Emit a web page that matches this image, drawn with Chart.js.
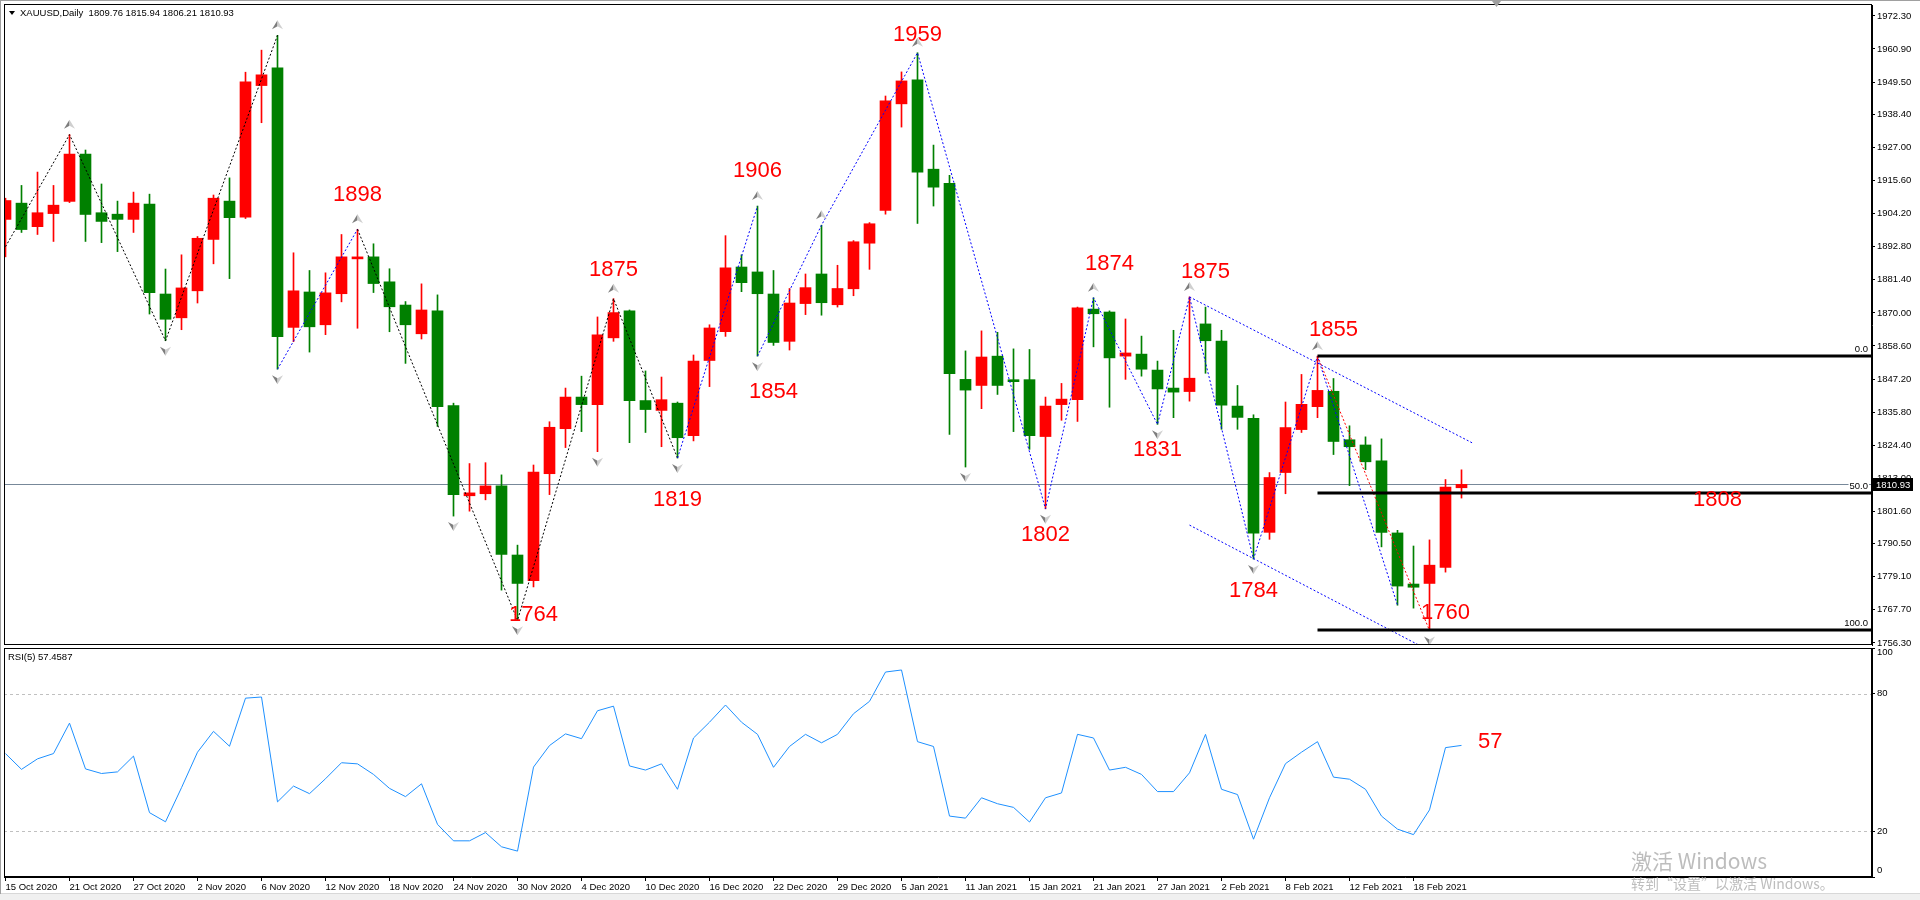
<!DOCTYPE html>
<html>
<head>
<meta charset="utf-8">
<title>XAUUSD Daily</title>
<script src="https://cdn.jsdelivr.net/npm/chart.js@4.4.1/dist/chart.umd.min.js"></script>
<style>
    body { margin: 0; width: 1920px; height: 900px; overflow: hidden; position: relative; background: #fff; }
    #priceChart { position: absolute; left: 0; top: 0; }
    #rsiChart { position: absolute; left: 0; top: 640px; }
    #frame { position: absolute; left: 0; top: 0; width: 1919px; height: 893px; border-left: 1px solid #a0a0a0; border-top: 1px solid #a0a0a0; pointer-events: none; }
    #bottomStrip { position: absolute; left: 0; top: 893px; width: 1920px; height: 7px; background: #f0f0f0; border-top: 1px solid #d8d8d8; }
    .wm { position: absolute; color: #bdbdbd; font-family: 'Noto Sans CJK SC', 'Noto Sans', sans-serif; white-space: nowrap; pointer-events: none; }
</style>
</head>
<body>
<canvas id="priceChart" width="1920" height="646"></canvas>
<canvas id="rsiChart" width="1920" height="253"></canvas>
<div id="bottomStrip"></div>
<div id="frame"></div>
<div class="wm" style="left:1631px; top:845px; font-size:21px;">激活 Windows</div>
<div class="wm" style="left:1631px; top:873px; font-size:14px;">转到“设置”以激活 Windows。</div>
<script>
// XAUUSD daily candles, 15 Oct 2020 .. 23 Feb 2021
const opens = [1902.2, 1907.8, 1899.7, 1904.2, 1908.4, 1924.7, 1904.5, 1904.0, 1902.2, 1907.5,
    1876.5, 1868.3, 1877.6, 1895.3, 1908.5, 1903.0, 1948.3, 1954.4, 1865.0, 1877.2,
    1865.9, 1876.6, 1888.6, 1889.3, 1880.7, 1872.7, 1862.8, 1870.7, 1838.1, 1807.0,
    1807.7, 1810.4, 1786.6, 1777.8, 1814.6, 1830.1, 1841.0, 1838.4, 1861.4, 1870.7,
    1839.8, 1836.4, 1838.9, 1827.7, 1853.6, 1863.5, 1885.8, 1884.1, 1876.5, 1860.2,
    1873.2, 1883.4, 1872.8, 1878.3, 1894.0, 1905.3, 1942.0, 1950.3, 1919.5, 1914.6,
    1847.1, 1845.0, 1855.1, 1846.5, 1847.0, 1827.4, 1838.4, 1840.1, 1871.3, 1870.3,
    1855.1, 1855.8, 1850.3, 1844.1, 1842.9, 1866.2, 1860.3, 1837.9, 1833.7, 1794.4,
    1815.0, 1829.8, 1837.7, 1843.0, 1826.3, 1824.5, 1819.0, 1794.2, 1776.6, 1776.8,
    1782.3, 1809.76];
const highs = [1909.5, 1913.9, 1918.5, 1913.9, 1931.4, 1926.1, 1914.4, 1908.5, 1911.6, 1910.9,
    1885.1, 1890.0, 1896.3, 1910.6, 1916.5, 1952.9, 1960.5, 1965.6, 1890.7, 1884.6,
    1883.8, 1897.0, 1898.8, 1893.8, 1885.2, 1873.9, 1880.0, 1876.2, 1838.9, 1818.1,
    1818.4, 1814.2, 1790.0, 1817.6, 1832.5, 1844.1, 1848.2, 1868.6, 1874.9, 1871.0,
    1850.0, 1847.9, 1839.3, 1855.5, 1865.9, 1896.6, 1890.0, 1906.8, 1884.6, 1878.4,
    1883.4, 1900.2, 1886.4, 1894.9, 1901.1, 1944.7, 1953.0, 1959.6, 1927.8, 1917.4,
    1856.9, 1863.8, 1863.3, 1857.6, 1857.4, 1841.0, 1845.7, 1872.0, 1875.2, 1870.7,
    1867.9, 1862.0, 1853.4, 1864.0, 1875.5, 1872.0, 1864.0, 1845.0, 1834.9, 1815.0,
    1839.3, 1848.8, 1855.1, 1847.4, 1831.1, 1827.3, 1826.6, 1795.1, 1789.7, 1791.8,
    1812.6, 1815.94];
const lows = [1889.3, 1897.7, 1897.0, 1894.6, 1908.0, 1894.6, 1894.2, 1891.1, 1897.7, 1869.6,
    1860.4, 1864.2, 1873.4, 1886.9, 1881.8, 1902.5, 1935.5, 1850.6, 1860.1, 1856.5,
    1862.5, 1873.8, 1864.7, 1877.0, 1863.5, 1852.6, 1861.0, 1830.9, 1800.0, 1801.7,
    1805.6, 1774.5, 1764.1, 1775.6, 1807.4, 1823.6, 1829.1, 1822.2, 1860.2, 1825.3,
    1828.8, 1823.9, 1820.0, 1825.9, 1844.6, 1861.9, 1877.3, 1855.1, 1858.8, 1857.2,
    1869.4, 1869.2, 1872.0, 1875.9, 1885.0, 1904.0, 1934.0, 1900.8, 1906.8, 1828.1,
    1816.9, 1837.0, 1841.9, 1829.1, 1823.0, 1802.5, 1833.0, 1832.6, 1858.3, 1837.5,
    1847.1, 1848.2, 1831.6, 1833.9, 1839.6, 1849.2, 1829.9, 1829.9, 1785.2, 1792.0,
    1807.7, 1828.8, 1833.9, 1821.2, 1810.5, 1816.0, 1789.4, 1769.3, 1768.3, 1760.6,
    1780.7, 1806.21];
const closes = [1908.7, 1898.7, 1904.5, 1907.1, 1924.7, 1903.9, 1901.5, 1902.2, 1907.8, 1877.0,
    1867.8, 1878.6, 1895.7, 1909.5, 1902.8, 1949.6, 1952.0, 1861.8, 1877.6, 1865.2,
    1876.9, 1889.3, 1889.0, 1880.1, 1872.1, 1865.9, 1871.0, 1837.7, 1807.4, 1808.0,
    1810.4, 1786.8, 1776.8, 1815.2, 1830.6, 1841.0, 1838.4, 1862.4, 1870.1, 1839.8,
    1836.7, 1840.1, 1827.0, 1853.4, 1864.8, 1885.5, 1880.4, 1876.6, 1859.8, 1873.4,
    1878.7, 1873.5, 1878.4, 1894.5, 1900.7, 1943.0, 1949.9, 1918.5, 1913.3, 1849.1,
    1843.4, 1854.8, 1845.0, 1846.3, 1827.7, 1837.9, 1840.3, 1871.7, 1869.7, 1854.5,
    1856.2, 1850.6, 1843.8, 1842.7, 1847.5, 1860.4, 1838.2, 1834.0, 1794.1, 1813.3,
    1830.5, 1838.5, 1843.3, 1825.7, 1823.9, 1818.7, 1794.4, 1775.9, 1775.5, 1783.1,
    1810.0, 1810.93];

// RSI(5)
const rsiValues = [53.9, 47.0, 51.6, 53.9, 67.2, 47.2, 45.2, 45.9, 52.8, 28.1,
    24.1, 39.0, 54.5, 63.6, 57.1, 78.1, 78.6, 32.8, 39.7, 36.4,
    42.9, 49.9, 49.4, 44.8, 38.7, 35.1, 40.7, 23.0, 15.8, 15.8,
    19.4, 13.2, 11.3, 48.0, 57.4, 62.5, 60.4, 72.6, 74.6, 48.5,
    46.7, 49.4, 38.3, 60.7, 67.6, 75.1, 67.6, 62.3, 47.9, 57.0,
    62.3, 58.6, 62.3, 71.3, 76.7, 89.5, 90.4, 59.1, 57.0, 26.6,
    25.7, 34.6, 32.0, 30.4, 24.0, 34.6, 36.7, 62.3, 60.7, 46.7,
    47.9, 44.8, 37.3, 37.3, 45.5, 62.3, 38.3, 36.0, 16.5, 34.6,
    49.5, 54.5, 59.1, 43.6, 42.7, 38.3, 26.6, 20.9, 18.5, 29.3,
    56.5, 57.46];

// one date label every 4th bar
const dateLabels = ['15 Oct 2020', '21 Oct 2020', '27 Oct 2020', '2 Nov 2020', '6 Nov 2020',
    '12 Nov 2020', '18 Nov 2020', '24 Nov 2020', '30 Nov 2020', '4 Dec 2020', '10 Dec 2020',
    '16 Dec 2020', '22 Dec 2020', '29 Dec 2020', '5 Jan 2021', '11 Jan 2021', '15 Jan 2021',
    '21 Jan 2021', '27 Jan 2021', '2 Feb 2021', '8 Feb 2021', '12 Feb 2021', '18 Feb 2021'];

const priceTicks = [1972.30, 1960.90, 1949.50, 1938.40, 1927.00, 1915.60, 1904.20, 1892.80,
    1881.40, 1870.00, 1858.60, 1847.20, 1835.80, 1824.40, 1813.00, 1801.60, 1790.50,
    1779.10, 1767.70, 1756.30];
const rsiTicks = [0, 20, 80, 100];

const lastPrice = 1810.93;

// zigzag swings (bar index + 'h' / 'l')
const swingHighs = [4, 17, 22, 38, 47, 51, 57, 68, 74, 82];
const swingLows = [10, 17, 28, 32, 37, 42, 47, 60, 65, 72, 78, 89];
const zigzagBlack1 = [[0, 1892.8], [4, 'h'], [10, 'l'], [17, 'h']];
const zigzagBlue1 = [[17, 'l'], [22, 'h']];
const zigzagBlack2 = [[22, 'h'], [32, 'l'], [38, 'h'], [42, 'l']];
const zigzagBlue2 = [[42, 'l'], [47, 'h']];
const zigzagBlue3 = [[47, 'l'], [51, 'h'], [57, 'h'], [65, 'l'], [68, 'h'], [72, 'l'], [74, 'h'],
    [78, 'l'], [82, 'h'], [87, 'l']];

// channel and fibonacci anchors
const channelUpper = [[74, 1875.5], [91.75, 1825.0]];
const channelLower = [[74, 1796.9], [92, 1745.0]];
const fibStart = 82, fibEnd = 89;
const fibLevels = [0, 50, 100];

// red price notes
const priceNotes = [
    { x: 22, y: 1910.6, text: '1898' },
    { x: 38, y: 1884.9, text: '1875' },
    { x: 47, y: 1918.9, text: '1906' },
    { x: 48, y: 1842.8, text: '1854' },
    { x: 42, y: 1805.5, text: '1819' },
    { x: 33, y: 1765.9, text: '1764' },
    { x: 57, y: 1965.9, text: '1959' },
    { x: 65, y: 1793.5, text: '1802' },
    { x: 69, y: 1886.8, text: '1874' },
    { x: 75, y: 1884.0, text: '1875' },
    { x: 72, y: 1822.9, text: '1831' },
    { x: 83, y: 1864.1, text: '1855' },
    { x: 78, y: 1774.2, text: '1784' },
    { x: 90, y: 1766.7, text: '1760' },
    { x: 107, y: 1805.5, text: '1808' }
];
const rsiNote = { x: 92.8, y: 59.1, text: '57' };

// x range: bar i sits at 5.5 + 16*i px, plot spans 4..1872
const xMin = -0.09375;
const xMax = xMin + 1868 / 16;

const tickFont = { family: "'Liberation Sans', Arial, sans-serif", size: 9.5 };
const noteFont = "22px 'Liberation Sans', Arial, sans-serif";
const smallFont = "9.5px 'Liberation Sans', Arial, sans-serif";

function vertexPrice(v) {
    if (v[1] === 'h') return highs[v[0]];
    if (v[1] === 'l') return lows[v[0]];
    return v[1];
}

function dottedPath(ctx, x, y, pts, color) {
    ctx.strokeStyle = color;
    ctx.lineWidth = 1;
    ctx.setLineDash([2, 2]);
    ctx.beginPath();
    pts.forEach((v, k) => {
        const px = x.getPixelForValue(v[0]);
        const py = y.getPixelForValue(vertexPrice(v));
        if (k === 0) ctx.moveTo(px, py); else ctx.lineTo(px, py);
    });
    ctx.stroke();
    ctx.setLineDash([]);
}

function drawArrow(ctx, cx, tipY, dir) {
    // dir = 1: pointing up (above a high), dir = -1: pointing down (below a low)
    const baseY = tipY + 9 * dir;
    const notchY = tipY + 6 * dir;
    ctx.fillStyle = '#7d7d7d';
    ctx.beginPath();
    ctx.moveTo(cx, tipY); ctx.lineTo(cx - 5.5, baseY); ctx.lineTo(cx, notchY); ctx.closePath();
    ctx.fill();
    ctx.fillStyle = '#cfcfcf';
    ctx.beginPath();
    ctx.moveTo(cx, tipY); ctx.lineTo(cx + 5.5, baseY); ctx.lineTo(cx, notchY); ctx.closePath();
    ctx.fill();
}

const priceOverlay = {
    id: 'priceOverlay',
    beforeDatasetsDraw(chart) {
        const { ctx, chartArea: a, scales: { y } } = chart;
        ctx.save();
        const py = Math.round(y.getPixelForValue(lastPrice)) + 0.5;
        ctx.strokeStyle = '#778899';
        ctx.lineWidth = 1;
        ctx.beginPath(); ctx.moveTo(a.left, py); ctx.lineTo(a.right, py); ctx.stroke();
        ctx.restore();
    },
    afterDatasetsDraw(chart) {
        const { ctx, chartArea: a, scales: { x, y } } = chart;
        ctx.save();
        ctx.beginPath(); ctx.rect(a.left, a.top, a.right - a.left, a.bottom - a.top); ctx.clip();

        // zigzag
        dottedPath(ctx, x, y, zigzagBlack1, '#000000');
        dottedPath(ctx, x, y, zigzagBlue1, '#0000ff');
        dottedPath(ctx, x, y, zigzagBlack2, '#000000');
        dottedPath(ctx, x, y, zigzagBlue2, '#0000ff');
        dottedPath(ctx, x, y, zigzagBlue3, '#0000ff');
        // channel
        dottedPath(ctx, x, y, channelUpper, '#0000ff');
        dottedPath(ctx, x, y, channelLower, '#0000ff');

        // fibonacci
        const fHigh = highs[fibStart], fLow = lows[fibEnd];
        dottedPath(ctx, x, y, [[fibStart, fHigh], [fibEnd, fLow]], '#ff0000');
        ctx.strokeStyle = '#000';
        ctx.lineWidth = 3;
        const fx = x.getPixelForValue(fibStart);
        fibLevels.forEach(lv => {
            const py = Math.round(y.getPixelForValue(fHigh - (fHigh - fLow) * lv / 100));
            ctx.beginPath(); ctx.moveTo(fx, py); ctx.lineTo(a.right, py); ctx.stroke();
            const label = lv.toFixed(1);
            ctx.font = smallFont;
            const w = ctx.measureText(label).width;
            ctx.fillStyle = '#fff';
            ctx.fillRect(a.right - 4 - w - 1, py - 13, w + 2, 10);
            ctx.fillStyle = '#000';
            ctx.textAlign = 'right'; ctx.textBaseline = 'alphabetic';
            ctx.fillText(label, a.right - 4, py - 4);
        });

        // swing arrows
        swingHighs.forEach(i => drawArrow(ctx, x.getPixelForValue(i), y.getPixelForValue(highs[i]) - 15, 1));
        swingLows.forEach(i => drawArrow(ctx, x.getPixelForValue(i), y.getPixelForValue(lows[i]) + 15, -1));

        // red notes
        ctx.font = noteFont;
        ctx.fillStyle = '#ff0000';
        ctx.textAlign = 'center'; ctx.textBaseline = 'middle';
        priceNotes.forEach(n => ctx.fillText(n.text, x.getPixelForValue(n.x), y.getPixelForValue(n.y)));
        ctx.restore();

        // pane border
        ctx.save();
        ctx.strokeStyle = '#000'; ctx.lineWidth = 1;
        ctx.strokeRect(a.left + 0.5, a.top - 0.5, a.right - a.left - 1, a.bottom - a.top);
        // header
        ctx.fillStyle = '#000';
        ctx.beginPath(); ctx.moveTo(9, 11); ctx.lineTo(15, 11); ctx.lineTo(12, 15); ctx.closePath(); ctx.fill();
        ctx.font = smallFont; ctx.textAlign = 'left'; ctx.textBaseline = 'middle';
        ctx.fillText('XAUUSD,Daily  1809.76 1815.94 1806.21 1810.93', 20, 13);
        // chart shift marker
        ctx.fillStyle = '#a0a0a0';
        ctx.beginPath(); ctx.moveTo(1492, 1); ctx.lineTo(1501, 1); ctx.lineTo(1496.5, 7); ctx.closePath(); ctx.fill();
        // current price box
        const py = Math.round(y.getPixelForValue(lastPrice));
        ctx.fillStyle = '#000';
        ctx.fillRect(a.right + 1, py - 6, 40, 13);
        ctx.fillStyle = '#fff';
        ctx.fillText(lastPrice.toFixed(2), a.right + 4, py + 1);
        ctx.restore();
    }
};

const rsiOverlay = {
    id: 'rsiOverlay',
    beforeDatasetsDraw(chart) {
        const { ctx, chartArea: a, scales: { y } } = chart;
        ctx.save();
        ctx.strokeStyle = '#c0c0c0'; ctx.lineWidth = 1; ctx.setLineDash([3, 3]);
        [20, 80].forEach(v => {
            const py = Math.round(y.getPixelForValue(v)) + 0.5;
            ctx.beginPath(); ctx.moveTo(a.left, py); ctx.lineTo(a.right, py); ctx.stroke();
        });
        ctx.restore();
    },
    afterDatasetsDraw(chart) {
        const { ctx, chartArea: a, scales: { x, y } } = chart;
        ctx.save();
        ctx.strokeStyle = '#000'; ctx.lineWidth = 1;
        ctx.strokeRect(a.left + 0.5, a.top + 0.5, a.right - a.left - 1, a.bottom - a.top - 1);
        ctx.fillStyle = '#000'; ctx.font = smallFont;
        ctx.textAlign = 'left'; ctx.textBaseline = 'middle';
        ctx.fillText('RSI(5) 57.4587', 8, a.top + 9);
        // end labels of the RSI scale sit inside the pane, as in the terminal
        ctx.fillText('100', a.right + 5, a.top + 4);
        ctx.fillText('0', a.right + 5, a.bottom - 7);
        ctx.font = noteFont; ctx.fillStyle = '#ff0000'; ctx.textAlign = 'center';
        ctx.fillText(rsiNote.text, x.getPixelForValue(rsiNote.x), y.getPixelForValue(rsiNote.y));
        ctx.restore();
    }
};

const barColors = opens.map((o, i) => closes[i] >= o ? '#ff0000' : '#008000');

new Chart(document.getElementById('priceChart'), {
    type: 'bar',
    data: {
        datasets: [
            {
                data: opens.map((o, i) => ({ x: i, y: [o, closes[i]] })),
                backgroundColor: barColors,
                barThickness: 11,
                minBarLength: 2,
                grouped: false,
                borderWidth: 0
            },
            {
                data: opens.map((o, i) => ({ x: i, y: [lows[i], highs[i]] })),
                backgroundColor: barColors,
                barThickness: 1,
                grouped: false,
                borderWidth: 0
            }
        ]
    },
    options: {
        responsive: false,
        animation: false,
        layout: { padding: { left: 4, top: 5, right: 0, bottom: 1 } },
        plugins: { legend: { display: false }, tooltip: { enabled: false } },
        scales: {
            x: { type: 'linear', display: false, min: xMin, max: xMax, offset: false },
            y: {
                position: 'right',
                min: 1755.6,
                max: 1976.05,
                afterBuildTicks: s => { s.ticks = priceTicks.map(v => ({ value: v })); },
                afterFit: s => { s.width = 48; s.paddingTop = 0; s.paddingBottom = 0; },
                ticks: { callback: v => v.toFixed(2), color: '#000', font: tickFont, padding: 2 },
                grid: { drawOnChartArea: false, tickLength: 3, color: '#000' },
                border: { color: '#000' }
            }
        }
    },
    plugins: [priceOverlay]
});

new Chart(document.getElementById('rsiChart'), {
    type: 'line',
    data: {
        datasets: [{
            data: rsiValues.map((v, i) => ({ x: i, y: v })),
            borderColor: '#1e90ff',
            borderWidth: 1,
            pointRadius: 0,
            tension: 0
        }]
    },
    options: {
        responsive: false,
        animation: false,
        layout: { padding: { left: 4, top: 8, right: 0, bottom: 0 } },
        plugins: { legend: { display: false }, tooltip: { enabled: false } },
        scales: {
            x: {
                type: 'linear',
                min: xMin,
                max: xMax,
                offset: false,
                afterBuildTicks: s => { s.ticks = dateLabels.map((d, k) => ({ value: k * 4 })); },
                afterFit: s => { s.height = 16; s.paddingLeft = 0; s.paddingRight = 0; },
                ticks: { callback: v => dateLabels[Math.round(v / 4)], align: 'start', autoSkip: false,
                    maxRotation: 0, color: '#000', font: tickFont, padding: 1 },
                grid: { drawOnChartArea: false, tickLength: 4, color: '#000' },
                border: { color: '#000' }
            },
            y: {
                position: 'right',
                min: 0,
                max: 100,
                afterBuildTicks: s => { s.ticks = rsiTicks.map(v => ({ value: v })); },
                afterFit: s => { s.width = 48; s.paddingTop = 0; s.paddingBottom = 0; },
                ticks: { callback: v => (v === 0 || v === 100) ? '' : String(v), color: '#000', font: tickFont, padding: 2 },
                grid: { drawOnChartArea: false, tickLength: 3, color: '#000' },
                border: { color: '#000' }
            }
        }
    },
    plugins: [rsiOverlay]
});
</script>
</body>
</html>
